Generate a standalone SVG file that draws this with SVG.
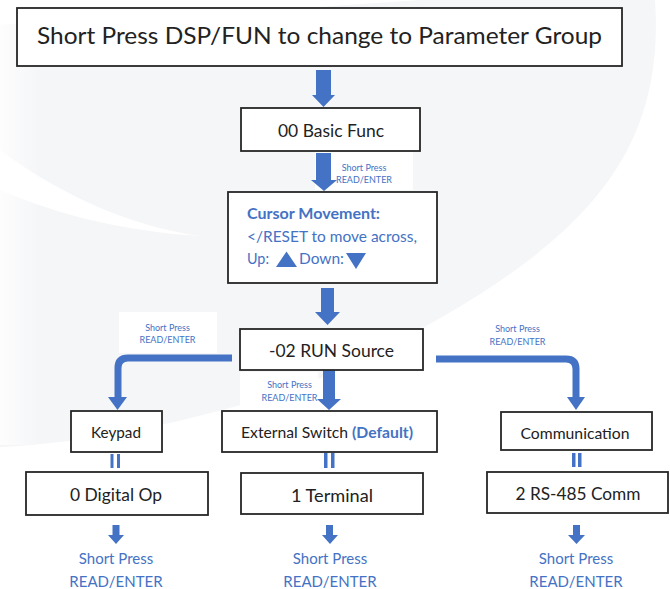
<svg xmlns="http://www.w3.org/2000/svg" width="670" height="589" viewBox="0 0 670 589">
  <defs>
    <style>
      .box { fill: #ffffff; stroke: #262626; stroke-width: 1.8; }
      .t { font-family: Lato, "Open Sans", "Liberation Sans", sans-serif; fill: #222222; text-anchor: middle; }
      .b { font-family: Lato, "Open Sans", "Liberation Sans", sans-serif; fill: #4472c4; }
      .sm { font-family: Lato, "Open Sans", "Liberation Sans", sans-serif; fill: #4472c4; font-size: 9px; text-anchor: middle; }
      .ar { fill: #4472c4; }
      .ln { fill: none; stroke: #4472c4; stroke-width: 7; stroke-linejoin: round; }
      .bg { fill: #ffffff; }
    </style>
    <linearGradient id="edge" x1="0" y1="0" x2="1" y2="0">
      <stop offset="0" stop-color="#ffffff" stop-opacity="0.8"/>
      <stop offset="1" stop-color="#ffffff" stop-opacity="0"/>
    </linearGradient>
  </defs>

  <!-- background -->
  <rect x="0" y="0" width="670" height="589" fill="#ffffff"/>
  <path d="M0,25 C150,20 300,8 420,0 L655,0 C665,150 590,240 400,340 C330,385 150,440 0,447 Z" fill="#f5f6f8"/>
  <rect x="0" y="25" width="40" height="420" fill="url(#edge)"/>
  <path d="M0,150 C60,195 130,226 200,236 C130,232 60,216 0,190 Z" fill="#ffffff"/>

  <!-- connectors -->
  <g id="connectors">
    <!-- top -> basic -->
    <path class="ar" d="M316,70 H331 V95 H335 L323.5,107 L312,95 H316 Z"/>
    <!-- basic -> cursor -->
    <rect x="315" y="152" width="98" height="38" class="bg"/>
    <path class="ar" d="M316,153 H331 V180 H337 L324,191 L311,180 H316 Z"/>
    <text class="sm" x="364" y="171">Short Press</text>
    <text class="sm" x="364" y="183">READ/ENTER</text>
    <!-- cursor -> run -->
    <path class="ar" d="M321,288 H334 V312 H340 L327.5,325 L315,312 H321 Z"/>
    <!-- run -> keypad -->
    <rect x="119" y="312" width="98" height="41" class="bg"/>
    <text class="sm" x="167.5" y="331">Short Press</text>
    <text class="sm" x="167.5" y="343">READ/ENTER</text>
    <path class="ln" d="M232,358 H128 Q118,358 118,368 V398"/>
    <path class="ar" d="M108,397 H127 L117.5,410 Z"/>
    <!-- run -> external -->
    <rect x="240" y="372" width="78" height="36" class="bg"/>
    <text class="sm" x="289.5" y="388">Short Press</text>
    <text class="sm" x="289.5" y="401">READ/ENTER</text>
    <path class="ar" d="M323,370 H335 V399 H341 L329,410 L317,399 H323 Z"/>
    <!-- run -> communication -->
    <text class="sm" x="517.5" y="332">Short Press</text>
    <text class="sm" x="517.5" y="345">READ/ENTER</text>
    <path class="ln" d="M436,359 H566 Q576,359 576,369 V398"/>
    <path class="ar" d="M567,397 H585 L576,410 Z"/>
    <!-- equals -->
    <rect class="ar" x="110.5" y="454" width="3" height="14"/>
    <rect class="ar" x="117" y="454" width="3" height="14"/>
    <rect class="ar" x="324" y="453" width="3.5" height="15"/>
    <rect class="ar" x="331" y="453" width="3.5" height="15"/>
    <rect class="ar" x="572" y="453" width="3.5" height="14"/>
    <rect class="ar" x="578" y="453" width="3.5" height="14"/>
    <!-- bottom arrows -->
    <path class="ar" d="M112.5,525 H119.5 V535 H124 L116,544 L108,535 H112.5 Z"/>
    <path class="ar" d="M326,525 H333 V535 H338 L330,544 L322,535 H326 Z"/>
    <path class="ar" d="M573,525 H580 V535 H585 L576.5,544 L568,535 H573 Z"/>
  </g>

  <g id="n-top">
    <rect class="box" x="17" y="8" width="605" height="58" stroke-width="2"/>
    <text class="t" x="319.5" y="44" font-size="24" textLength="565" lengthAdjust="spacingAndGlyphs">Short Press DSP/FUN to change to Parameter Group</text>
  </g>
  <g id="n-basic">
    <rect class="box" x="241" y="108" width="179" height="43"/>
    <text class="t" x="331" y="137" font-size="17" textLength="106" lengthAdjust="spacingAndGlyphs">00 Basic Func</text>
  </g>
  <g id="n-cursor">
    <rect class="box" x="228" y="192" width="209" height="91"/>
    <text class="b" x="247" y="219" font-size="15" font-weight="bold" textLength="133" lengthAdjust="spacingAndGlyphs">Cursor Movement:</text>
    <text class="b" x="247" y="242" font-size="15" textLength="170" lengthAdjust="spacingAndGlyphs">&lt;/RESET to move across,</text>
    <text class="b" x="247" y="264" font-size="15" textLength="22" lengthAdjust="spacingAndGlyphs">Up:</text>
    <path class="ar" d="M286.5,251.5 L297,267 H276 Z"/>
    <text class="b" x="299" y="264" font-size="15" textLength="45" lengthAdjust="spacingAndGlyphs">Down:</text>
    <path class="ar" d="M346,253 H366 L356,269 Z"/>
  </g>
  <g id="n-run">
    <rect class="box" x="240" y="329" width="183" height="41"/>
    <text class="t" x="331.5" y="357" font-size="17" textLength="125" lengthAdjust="spacingAndGlyphs">-02 RUN Source</text>
  </g>
  <g id="n-keypad">
    <rect class="box" x="71" y="411" width="91" height="41"/>
    <text class="t" x="116" y="438" font-size="15" textLength="50" lengthAdjust="spacingAndGlyphs">Keypad</text>
  </g>
  <g id="n-external">
    <rect class="box" x="222" y="411" width="215" height="41"/>
    <text class="t" x="327" y="438" font-size="15" textLength="172" lengthAdjust="spacingAndGlyphs">External Switch <tspan font-weight="bold" fill="#4472c4">(Default)</tspan></text>
  </g>
  <g id="n-comm">
    <rect class="box" x="501" y="412" width="151" height="38"/>
    <text class="t" x="575" y="439" font-size="15" textLength="109" lengthAdjust="spacingAndGlyphs">Communication</text>
  </g>
  <g id="n-digital">
    <rect class="box" x="26" y="472" width="182" height="43"/>
    <text class="t" x="116" y="501" font-size="17" textLength="92" lengthAdjust="spacingAndGlyphs">0 Digital Op</text>
    <text class="b" x="116" y="564" font-size="15" text-anchor="middle">Short Press</text>
    <text class="b" x="116" y="587" font-size="15" text-anchor="middle">READ/ENTER</text>
  </g>
  <g id="n-terminal">
    <rect class="box" x="241" y="473" width="182" height="41"/>
    <text class="t" x="332" y="502" font-size="17" textLength="82" lengthAdjust="spacingAndGlyphs">1 Terminal</text>
    <text class="b" x="330" y="564" font-size="15" text-anchor="middle">Short Press</text>
    <text class="b" x="330" y="587" font-size="15" text-anchor="middle">READ/ENTER</text>
  </g>
  <g id="n-rs485">
    <rect class="box" x="487" y="472" width="181" height="41"/>
    <text class="t" x="578" y="500" font-size="17" textLength="125" lengthAdjust="spacingAndGlyphs">2 RS-485 Comm</text>
    <text class="b" x="576" y="564" font-size="15" text-anchor="middle">Short Press</text>
    <text class="b" x="576" y="587" font-size="15" text-anchor="middle">READ/ENTER</text>
  </g>
</svg>
